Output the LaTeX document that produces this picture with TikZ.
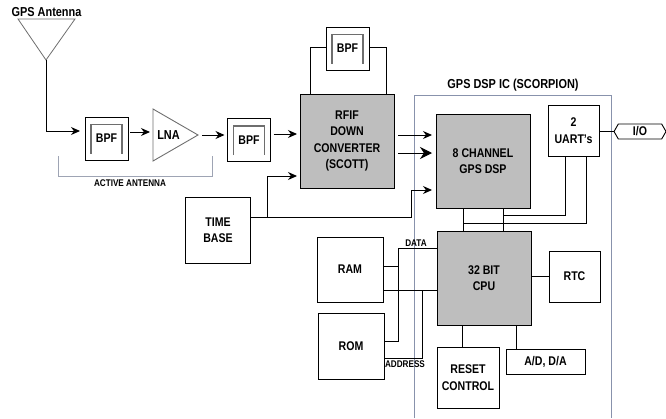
\documentclass[tikz,border=0pt]{standalone}
\usepackage{fontspec}
\setmainfont[FakeStretch=0.84]{Liberation Sans}
\usetikzlibrary{arrows.meta,shapes.symbols}
\definecolor{chipgray}{RGB}{190,190,190}
\definecolor{icblue}{RGB}{136,146,172}
\definecolor{bracketgray}{RGB}{110,110,110}
\tikzset{
	block/.style = {draw, line width = 1pt, outer sep = 0pt, inner sep = 0pt, align = center, font = \fontsize{12.6}{16.5}\selectfont\bfseries},
	chip/.style = {block, fill = chipgray, minimum width = 94pt, minimum height = 94pt},
	title/.style = {inner sep = 0pt, font = \fontsize{13}{15}\selectfont\bfseries},
	tag/.style = {inner sep = 0pt, font = \fontsize{9.7}{11}\selectfont\bfseries},
	wire/.style = {line width = 1pt},
	feed/.style = {line width = 1pt, -{Stealth[length = 9pt, width = 8pt]}},
}
\begin{document}
\begin{tikzpicture}[x = 1pt, y = -1pt]
	\useasboundingbox (0,0) rectangle (666,418);
	% antenna and the filters
	\node [title] (antlabel) at (46.5,12.5) {GPS Antenna};
	\coordinate (anttip) at (46,60);
	\draw [line width = 0.8pt, draw = bracketgray] (18,19) -- (75,19) -- (anttip) -- cycle;
	\foreach \name/\cx/\cy in {bpfa/106.5/138.5, bpfb/249/140, bpfc/347.5/48.5} {
		\node [block, minimum width = 43pt, minimum height = 43pt] (\name) at (\cx,\cy) {BPF};
		\draw [line width = 1.2pt, draw = bracketgray] ([shift = {(-15.5,15)}]\name.center) -- ([shift = {(-15.5,-14)}]\name.center) -- ([shift = {(15.5,-14)}]\name.center) -- ([shift = {(15.5,15)}]\name.center);
	}
	\coordinate (lnatip) at (198,135);
	\draw [line width = 0.9pt, draw = bracketgray] (153,109) -- (lnatip) -- (153,161) -- cycle;
	\node [title] (lna) at (168.5,135) {LNA};
	\draw [line width = 0.8pt, draw = icblue!60!lightgray] (58,156) -- (58,176) -- (212,176) -- (212,156);
	\node [tag] (activelabel) at (130,183.5) {ACTIVE ANTENNA};
	% big blocks
	\node [chip] (rfif) at (347,141) {RFIF\\DOWN\\CONVERTER\\(SCOTT)};
	\node [block, minimum width = 65pt, minimum height = 66pt] (timebase) at (218,230) {TIME\\BASE};
	\draw [line width = 1pt, draw = icblue] (414,418) -- (414,95) -- (611,95) -- (611,418);
	\node [title] (iclabel) at (513,85) {GPS DSP IC (SCORPION)};
	\node [chip] (dsp) at (483,161) {8 CHANNEL\\GPS DSP};
	\node [chip] (cpu) at (484,278) {32 BIT\\CPU};
	\node [block, minimum width = 51pt, minimum height = 51pt] (uart) at (573.5,130.5) {2\\UART's};
	\node [block, minimum width = 51pt, minimum height = 51pt] (rtc) at (574.5,276.5) {RTC};
	\node [block, minimum width = 66pt, minimum height = 65pt] (ram) at (350,269.5) {RAM};
	\node [block, minimum width = 66pt, minimum height = 66pt] (rom) at (351,346) {ROM};
	\node [block, minimum width = 62pt, minimum height = 61pt] (reset) at (468,377.5) {RESET\\CONTROL};
	\node [block, minimum width = 79pt, minimum height = 25pt] (adda) at (545.5,361.5) {A/D, D/A};
	\node [block, shape = signal, signal to = west and east, signal from = nowhere, signal pointer angle = 120, line width = 0.9pt, minimum width = 52pt, minimum height = 15pt] (io) at (640,131.5) {I/O};
	% signal path
	\draw [feed] (anttip) |- ([shift = {(-5,-7.5)}]bpfa.west);
	\draw [feed] ([shift = {(2,-6.5)}]bpfa.east) -- (150,132);
	\draw [feed] ([xshift = 4]lnatip) -- ([shift = {(-3,-5)}]bpfb.west);
	\draw [feed] ([shift = {(3,-6)}]bpfb.east) -- ([shift = {(-3,-7)}]rfif.west);
	\draw [wire] ([shift = {(0,-1.5)}]bpfc.west) -- (310,47) -- (310,94);
	\draw [wire] ([shift = {(0,-1.5)}]bpfc.east) -- (386,47) -- (386,94);
	\coordinate (basejoint) at (267,217);
	\draw [wire] ([shift = {(0,-13)}]timebase.east) -- (basejoint);
	\draw [feed] (basejoint) |- ([shift = {(-3,35)}]rfif.west);
	\draw [feed] (basejoint) -- (411,217) |- ([shift = {(-4,29)}]dsp.west);
	\draw [feed] ([shift = {(4,-6)}]rfif.east) -- ([shift = {(-4,-26)}]dsp.west);
	\draw [line width = 1pt, -{Stealth[length = 12pt, width = 12pt]}] ([shift = {(4,12)}]rfif.east) -- ([shift = {(-4,-8)}]dsp.west);
	% chip wiring
	\draw [wire] ([xshift = -20]dsp.south) -- ([xshift = -21]cpu.north);
	\draw [wire] ([xshift = 20]dsp.south) -- ([xshift = 19]cpu.north);
	\draw [wire] ([xshift = -8.5]uart.south) -- (565,215) -- (503,215);
	\draw [wire] ([xshift = 12.5]uart.south) -- (586,223) -- (463,223);
	\draw [wire] (uart.east |- io.west) -- (io.west);
	\draw [wire] (rtc.west) -- (cpu.east |- rtc.west);
	\draw [wire] ([xshift = -6]reset.north) -- ([xshift = -22]cpu.south);
	\draw [wire] ([xshift = -29.5]adda.north) -- ([xshift = 32]cpu.south);
	% buses
	\draw [wire] ([shift = {(0,-30)}]cpu.west) -- (398,248) -- (398,341) -- ([shift = {(0,-5)}]rom.east);
	\draw [wire] ([shift = {(0,-3.5)}]ram.east) -- (398,266);
	\draw [wire] ([shift = {(0,12)}]cpu.west) -- ([shift = {(0,20.5)}]ram.east);
	\draw [wire] (422,290) -- (422,358) -- ([shift = {(0,12)}]rom.east);
	\node [tag] (datalabel) at (416,243) {DATA};
	\node [tag] (addresslabel) at (405,364.5) {ADDRESS};
\end{tikzpicture}
\end{document}
